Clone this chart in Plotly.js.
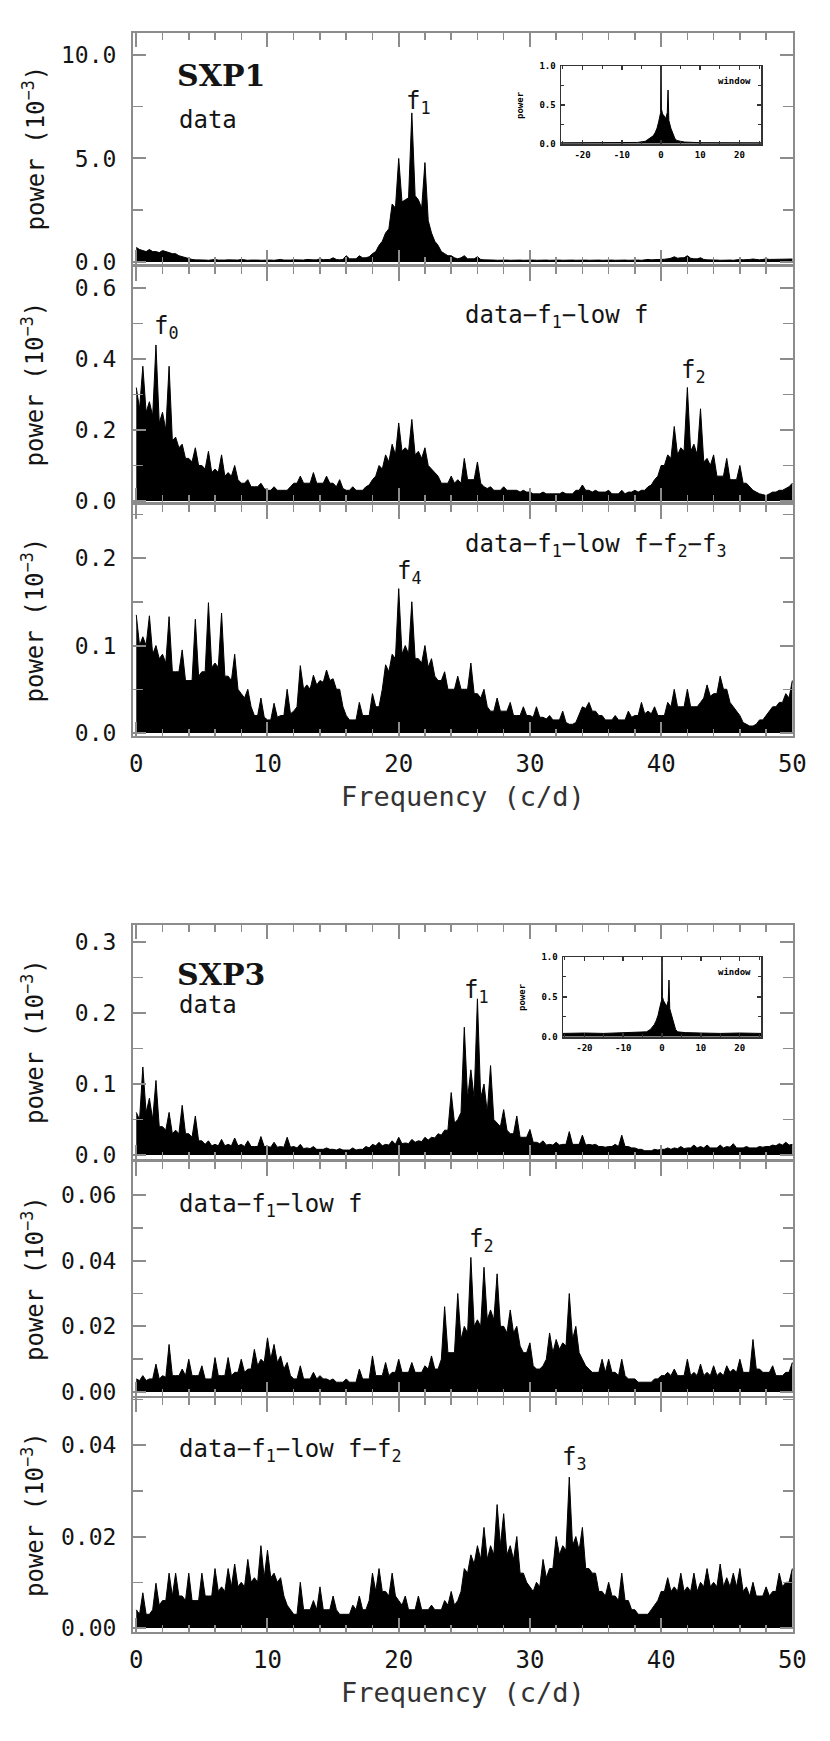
<!DOCTYPE html>
<html><head><meta charset="utf-8">
<script src="https://cdn.plot.ly/plotly-3.0.1.min.js"></script>
<style>html,body{margin:0;padding:0;background:#fff}</style>
</head><body><div id="chart" style="width:830px;height:1741px"></div>
<script>
// frequency grid (c/d): 0 .. 50 in steps of 0.25 (one row below = 5 c/d)
const FREQ_STEP = 0.25;

// SXP1 periodograms (power, 10^-3)
const sxp1Data = [
 0.7,0.6,0.55,0.5,0.6,0.5,0.5,0.45,0.55,0.48,0.45,0.4,0.4,0.3,0.25,0.2,0.15,0.12,0.1,0.1,
 0.12,0.09,0.08,0.09,0.12,0.09,0.08,0.09,0.1,0.09,0.08,0.09,0.12,0.09,0.08,0.09,0.1,0.09,0.08,0.09,
 0.1,0.09,0.08,0.09,0.12,0.09,0.08,0.09,0.1,0.09,0.08,0.09,0.12,0.1,0.1,0.1,0.15,0.11,0.1,0.12,
 0.2,0.12,0.1,0.12,0.3,0.15,0.15,0.15,0.3,0.2,0.2,0.25,0.4,0.5,0.8,1.0,1.4,1.6,2.8,2.6,
 5.0,2.9,3.0,3.1,7.2,3.2,3.0,2.6,4.8,2.0,1.4,1.0,0.8,0.5,0.4,0.3,0.3,0.2,0.15,0.2,
 0.3,0.15,0.15,0.15,0.25,0.12,0.1,0.1,0.12,0.09,0.08,0.09,0.1,0.09,0.08,0.09,0.1,0.09,0.08,0.09,
 0.1,0.09,0.08,0.09,0.1,0.09,0.08,0.09,0.1,0.09,0.08,0.09,0.1,0.09,0.08,0.09,0.1,0.09,0.08,0.09,
 0.1,0.09,0.08,0.09,0.1,0.09,0.08,0.09,0.1,0.09,0.08,0.09,0.1,0.09,0.08,0.1,0.12,0.1,0.1,0.11,
 0.12,0.13,0.15,0.18,0.25,0.18,0.2,0.2,0.3,0.18,0.15,0.15,0.2,0.12,0.1,0.1,0.12,0.09,0.08,0.09,
 0.1,0.09,0.08,0.1,0.12,0.1,0.1,0.12,0.14,0.11,0.1,0.12,0.15,0.12,0.12,0.13,0.15,0.12,0.12,0.13,
 0.14];
const sxp1Res1 = [
 0.32,0.26,0.38,0.25,0.28,0.24,0.44,0.22,0.25,0.2,0.38,0.17,0.18,0.15,0.16,0.12,0.12,0.11,0.15,0.1,
 0.1,0.09,0.14,0.08,0.09,0.08,0.13,0.07,0.08,0.07,0.1,0.06,0.05,0.05,0.06,0.04,0.04,0.04,0.05,0.035,
 0.03,0.03,0.04,0.03,0.03,0.03,0.03,0.04,0.05,0.05,0.07,0.05,0.05,0.05,0.08,0.05,0.05,0.05,0.07,0.05,
 0.05,0.04,0.06,0.035,0.03,0.03,0.04,0.03,0.03,0.03,0.04,0.045,0.06,0.07,0.1,0.09,0.13,0.11,0.16,0.13,
 0.22,0.14,0.15,0.14,0.23,0.13,0.14,0.12,0.15,0.1,0.09,0.08,0.07,0.05,0.05,0.05,0.07,0.05,0.06,0.05,
 0.12,0.06,0.06,0.06,0.11,0.05,0.04,0.035,0.04,0.03,0.03,0.03,0.04,0.03,0.03,0.03,0.03,0.025,0.03,0.025,
 0.025,0.02,0.02,0.02,0.025,0.02,0.02,0.02,0.02,0.02,0.025,0.02,0.02,0.02,0.03,0.03,0.045,0.03,0.03,0.025,
 0.03,0.025,0.025,0.025,0.03,0.02,0.02,0.02,0.03,0.02,0.025,0.025,0.03,0.025,0.03,0.03,0.04,0.045,0.06,0.07,
 0.1,0.1,0.13,0.12,0.21,0.13,0.15,0.14,0.32,0.14,0.16,0.13,0.26,0.11,0.12,0.1,0.13,0.07,0.07,0.07,
 0.12,0.06,0.06,0.06,0.1,0.05,0.05,0.04,0.03,0.025,0.02,0.018,0.015,0.02,0.025,0.025,0.03,0.03,0.035,0.04,
 0.05];
const sxp1Res2 = [
 0.135,0.1,0.11,0.1,0.134,0.09,0.1,0.085,0.09,0.08,0.133,0.07,0.07,0.07,0.095,0.06,0.06,0.06,0.13,0.065,
 0.07,0.07,0.149,0.075,0.08,0.075,0.137,0.065,0.065,0.06,0.09,0.05,0.045,0.04,0.05,0.03,0.02,0.02,0.04,0.018,
 0.015,0.015,0.034,0.018,0.02,0.02,0.05,0.022,0.025,0.03,0.077,0.05,0.055,0.05,0.066,0.055,0.06,0.058,0.072,0.06,
 0.062,0.05,0.05,0.03,0.02,0.015,0.015,0.015,0.035,0.02,0.02,0.02,0.045,0.03,0.03,0.05,0.078,0.07,0.09,0.085,
 0.165,0.09,0.1,0.09,0.15,0.085,0.085,0.08,0.1,0.075,0.085,0.065,0.06,0.06,0.07,0.05,0.05,0.05,0.065,0.05,
 0.05,0.05,0.08,0.045,0.045,0.04,0.05,0.03,0.025,0.025,0.04,0.025,0.025,0.025,0.035,0.02,0.02,0.02,0.03,0.02,
 0.02,0.018,0.03,0.018,0.018,0.016,0.02,0.015,0.015,0.015,0.025,0.012,0.01,0.01,0.012,0.02,0.03,0.028,0.035,0.025,
 0.025,0.02,0.02,0.015,0.015,0.015,0.02,0.015,0.015,0.015,0.025,0.018,0.02,0.02,0.035,0.022,0.025,0.022,0.03,0.02,
 0.02,0.02,0.035,0.03,0.05,0.03,0.03,0.03,0.05,0.03,0.03,0.03,0.035,0.04,0.055,0.042,0.045,0.045,0.065,0.05,
 0.05,0.035,0.03,0.025,0.02,0.012,0.01,0.008,0.008,0.01,0.015,0.015,0.02,0.025,0.03,0.03,0.035,0.035,0.045,0.04,
 0.06];

// SXP3 periodograms (power, 10^-3)
const sxp3Data = [
 0.06,0.05,0.124,0.06,0.08,0.05,0.105,0.04,0.04,0.035,0.06,0.03,0.035,0.03,0.07,0.03,0.03,0.025,0.055,0.02,
 0.02,0.015,0.02,0.013,0.015,0.013,0.022,0.013,0.015,0.013,0.024,0.013,0.015,0.012,0.02,0.012,0.012,0.012,0.026,0.012,
 0.012,0.011,0.018,0.011,0.012,0.011,0.025,0.011,0.012,0.01,0.015,0.009,0.01,0.009,0.012,0.008,0.008,0.008,0.01,0.008,
 0.008,0.007,0.009,0.007,0.007,0.007,0.01,0.007,0.008,0.008,0.012,0.01,0.015,0.013,0.018,0.013,0.015,0.014,0.02,0.015,
 0.025,0.016,0.017,0.016,0.022,0.018,0.02,0.019,0.025,0.021,0.025,0.024,0.03,0.028,0.035,0.035,0.088,0.045,0.05,0.06,
 0.18,0.08,0.12,0.08,0.22,0.08,0.1,0.06,0.126,0.05,0.045,0.04,0.064,0.035,0.03,0.03,0.055,0.025,0.025,0.025,
 0.036,0.018,0.018,0.016,0.02,0.014,0.015,0.014,0.018,0.014,0.015,0.015,0.033,0.015,0.015,0.015,0.028,0.014,0.015,0.014,
 0.015,0.012,0.012,0.011,0.012,0.012,0.015,0.012,0.028,0.012,0.012,0.01,0.01,0.008,0.008,0.006,0.006,0.006,0.008,0.007,
 0.008,0.008,0.01,0.008,0.01,0.009,0.012,0.009,0.01,0.01,0.014,0.01,0.012,0.01,0.014,0.01,0.01,0.01,0.014,0.01,
 0.012,0.011,0.016,0.01,0.01,0.01,0.012,0.01,0.01,0.01,0.012,0.011,0.012,0.012,0.014,0.013,0.016,0.014,0.018,0.014,
 0.015];
const sxp3Res1 = [
 0.004,0.0035,0.005,0.0035,0.004,0.004,0.0085,0.004,0.005,0.0045,0.0145,0.005,0.005,0.005,0.007,0.005,0.01,0.005,0.005,0.005,
 0.008,0.004,0.004,0.004,0.0105,0.005,0.005,0.005,0.0105,0.005,0.006,0.006,0.01,0.006,0.007,0.007,0.013,0.008,0.01,0.009,
 0.0165,0.01,0.0145,0.009,0.011,0.007,0.009,0.005,0.004,0.004,0.008,0.004,0.004,0.004,0.006,0.004,0.005,0.004,0.004,0.0035,
 0.004,0.003,0.003,0.003,0.004,0.003,0.003,0.003,0.007,0.004,0.004,0.004,0.011,0.005,0.005,0.005,0.009,0.005,0.006,0.006,
 0.01,0.006,0.006,0.006,0.009,0.006,0.006,0.006,0.008,0.007,0.011,0.007,0.007,0.01,0.026,0.012,0.012,0.012,0.03,0.016,
 0.02,0.018,0.041,0.02,0.022,0.02,0.038,0.022,0.025,0.022,0.036,0.02,0.02,0.018,0.025,0.018,0.02,0.014,0.012,0.012,
 0.015,0.008,0.007,0.007,0.008,0.01,0.018,0.012,0.016,0.013,0.015,0.014,0.03,0.016,0.02,0.012,0.01,0.008,0.007,0.006,
 0.006,0.006,0.01,0.006,0.01,0.006,0.006,0.005,0.01,0.005,0.004,0.004,0.004,0.003,0.003,0.003,0.003,0.003,0.004,0.004,
 0.005,0.005,0.006,0.005,0.007,0.005,0.005,0.005,0.01,0.005,0.006,0.005,0.0085,0.005,0.006,0.005,0.008,0.005,0.006,0.005,
 0.008,0.006,0.007,0.006,0.01,0.006,0.006,0.006,0.016,0.007,0.007,0.006,0.006,0.006,0.008,0.005,0.005,0.005,0.006,0.006,
 0.009];
const sxp3Res2 = [
 0.004,0.003,0.0077,0.003,0.003,0.004,0.0098,0.005,0.006,0.006,0.012,0.007,0.012,0.007,0.007,0.006,0.012,0.006,0.006,0.006,
 0.012,0.007,0.007,0.007,0.013,0.008,0.009,0.008,0.013,0.009,0.014,0.009,0.01,0.009,0.015,0.01,0.011,0.01,0.018,0.011,
 0.017,0.011,0.012,0.01,0.011,0.007,0.005,0.004,0.003,0.003,0.01,0.004,0.004,0.004,0.006,0.004,0.009,0.004,0.004,0.004,
 0.007,0.004,0.003,0.003,0.003,0.003,0.005,0.004,0.007,0.004,0.004,0.006,0.012,0.008,0.013,0.008,0.008,0.007,0.012,0.007,
 0.006,0.005,0.007,0.004,0.004,0.004,0.007,0.004,0.004,0.004,0.005,0.004,0.004,0.004,0.006,0.005,0.008,0.005,0.006,0.008,
 0.013,0.012,0.016,0.014,0.018,0.015,0.022,0.015,0.018,0.016,0.027,0.018,0.025,0.016,0.018,0.015,0.02,0.012,0.012,0.01,
 0.009,0.008,0.01,0.009,0.015,0.011,0.013,0.013,0.02,0.016,0.018,0.017,0.033,0.018,0.02,0.017,0.022,0.013,0.013,0.012,
 0.012,0.008,0.008,0.007,0.01,0.007,0.007,0.006,0.012,0.006,0.006,0.004,0.004,0.003,0.003,0.003,0.003,0.004,0.005,0.006,
 0.008,0.008,0.011,0.008,0.009,0.008,0.012,0.008,0.009,0.008,0.012,0.008,0.01,0.009,0.013,0.009,0.01,0.009,0.014,0.009,
 0.011,0.009,0.012,0.009,0.013,0.008,0.009,0.007,0.01,0.007,0.007,0.007,0.009,0.007,0.008,0.008,0.012,0.009,0.01,0.01,
 0.013];

// spectral windows (insets)
const winFreq = [-25.5,-20,-15,-10,-6,-4,-3,-2,-1.5,-1,-0.6,-0.3,-0.1,0,0.1,0.4,0.8,1.2,1.6,1.8,2.0,2.5,3,3.5,4,6,10,15,20,25.5];
const winPow1 = [0.01,0.012,0.01,0.012,0.015,0.03,0.06,0.1,0.14,0.2,0.28,0.35,0.4,1.0,0.45,0.38,0.36,0.32,0.4,0.69,0.3,0.2,0.12,0.07,0.04,0.02,0.012,0.01,0.012,0.01];
const winPow2 = [0.04,0.045,0.04,0.045,0.05,0.06,0.09,0.15,0.2,0.27,0.36,0.43,0.46,1.0,0.5,0.45,0.42,0.38,0.45,0.71,0.35,0.25,0.15,0.09,0.06,0.05,0.045,0.04,0.045,0.04];

// tick labels
const yTicks = [
 {vals:[0,5,10], text:['0.0','5.0','10.0'], minor:2.5},
 {vals:[0,0.2,0.4,0.6], text:['0.0','0.2','0.4','0.6'], minor:0.1},
 {vals:[0,0.1,0.2], text:['0.0','0.1','0.2'], minor:0.05},
 {vals:[0,0.1,0.2,0.3], text:['0.0','0.1','0.2','0.3'], minor:0.05},
 {vals:[0,0.02,0.04,0.06], text:['0.00','0.02','0.04','0.06'], minor:0.01},
 {vals:[0,0.02,0.04], text:['0.00','0.02','0.04'], minor:0.01}
];
const xTickVals = [0,10,20,30,40,50];
const xTickText = ['0','10','20','30','40','50'];
const winXVals = [-20,-10,0,10,20], winXText = ['-20','-10','0','10','20'];
const winYVals = [0,0.5,1], winYText = ['0.0','0.5','1.0'];

// ---------------- layout geometry (pixels) ----------------
const W = 830, H = 1741;
const PX = [133, 793];
const panels = [ // top, bottom (px), y range
 {t:33,  b:264,  r:[-0.1, 11.06]},
 {t:267, b:502,  r:[-0.003, 0.66]},
 {t:505, b:736,  r:[-0.0034, 0.2606]},
 {t:925, b:1159, r:[-0.0056, 0.324]},
 {t:1162,b:1396, r:[-0.0012, 0.07005]},
 {t:1398,b:1632, r:[-0.00087, 0.0503]}
];
const series = [sxp1Data, sxp1Res1, sxp1Res2, sxp3Data, sxp3Res1, sxp3Res2];
const insets = [{l:561,r:761,t:66,b:144,y:winPow1},{l:563,r:761,t:957,b:1037,y:winPow2}];

const fx = p => p / W, fy = p => 1 - p / H;
const FRAME = '#8c8c8c';
const MONO = 'DejaVu Sans Mono, monospace';
const TXT = '#141414';

const data = [], layout = {
 width: W, height: H, margin:{l:0,r:0,t:0,b:0},
 paper_bgcolor:'#fff', plot_bgcolor:'rgba(0,0,0,0)', showlegend:false,
 annotations: []
};

panels.forEach((p, i) => {
 const n = i + 1, xs = n === 1 ? '' : n, bottom = (i === 2 || i === 5);
 const ys = series[i];
 const freq = ys.map((_, k) => k * FREQ_STEP);
 data.push({x: freq, y: ys, type:'scatter', mode:'lines', fill:'tozeroy',
   line:{color:'#000', width:1}, fillcolor:'#000', xaxis:'x'+xs, yaxis:'y'+xs, hoverinfo:'skip'});
 layout['xaxis'+xs] = {
   domain:[fx(PX[0]), fx(PX[1])], anchor:'y'+xs, range:[-0.25, 50.05],
   showline:true, mirror:'allticks', linecolor:FRAME, linewidth:2,
   ticks:'inside', ticklen:14, tickwidth:2, tickcolor:FRAME,
   tickvals:xTickVals, ticktext:xTickText, showticklabels:bottom,
   ticklabelstandoff:5,
   tickfont:{family:MONO, size:24, color:TXT},
   minor:{dtick:2, tick0:0, ticks:'inside', ticklen:7, tickwidth:1.5, tickcolor:FRAME, showgrid:false},
   showgrid:false, zeroline:false, fixedrange:true
 };
 const yt = yTicks[i];
 layout['yaxis'+xs] = {
   domain:[fy(p.b), fy(p.t)], anchor:'x'+xs, range:p.r,
   showline:true, mirror:'allticks', linecolor:FRAME, linewidth:2,
   ticks:'inside', ticklen:13, tickwidth:2, tickcolor:FRAME,
   tickvals:yt.vals, ticktext:yt.text, ticklabelstandoff:10,
   tickfont:{family:MONO, size:23, color:TXT},
   minor:{dtick:yt.minor, tick0:0, ticks:'inside', ticklen:10, tickwidth:1.5, tickcolor:FRAME, showgrid:false},
   showgrid:false, zeroline:false, fixedrange:true
 };
 // y title
 layout.annotations.push({text:'power (10<sup>−3</sup>)', xref:'paper', yref:'paper',
   x:fx(33), y:fy((p.t+p.b)/2), textangle:-90, showarrow:false, xanchor:'center', yanchor:'middle',
   font:{family:MONO, size:24, color:TXT}});
 if (bottom) {
   layout.annotations.push({text:'Frequency (c/d)', xref:'paper', yref:'paper',
     x:fx((PX[0]+PX[1])/2), y:fy(p.b+60), showarrow:false, xanchor:'center', yanchor:'middle',
     font:{family:MONO, size:27, color:'#333'}});
 }
});

insets.forEach((s, k) => {
 const n = 7 + k;
 data.push({x: winFreq, y: s.y, type:'scatter', mode:'lines', fill:'tozeroy',
   line:{color:'#000', width:1}, fillcolor:'#000', xaxis:'x'+n, yaxis:'y'+n, hoverinfo:'skip'});
 layout['xaxis'+n] = {
   domain:[fx(s.l), fx(s.r)], anchor:'y'+n, range:[-25.5, 25.5],
   showline:true, mirror:'allticks', linecolor:'#333', linewidth:1.5,
   ticks:'inside', ticklen:4, tickwidth:1.5, tickcolor:'#333',
   tickvals:winXVals, ticktext:winXText, ticklabelstandoff:2,
   tickfont:{family:MONO, size:9, color:'#000', weight:'bold'},
   minor:{dtick:5, tick0:0, ticks:'inside', ticklen:3, tickwidth:1, tickcolor:'#333', showgrid:false},
   showgrid:false, zeroline:false, fixedrange:true
 };
 layout['yaxis'+n] = {
   domain:[fy(s.b), fy(s.t)], anchor:'x'+n, range:[-0.005, 1.0],
   showline:true, mirror:'allticks', linecolor:'#333', linewidth:1.5,
   ticks:'inside', ticklen:4, tickwidth:1.5, tickcolor:'#333',
   tickvals:winYVals, ticktext:winYText, ticklabelstandoff:2,
   tickfont:{family:MONO, size:9, color:'#000', weight:'bold'},
   minor:{dtick:0.25, tick0:0, ticks:'inside', ticklen:3, tickwidth:1, tickcolor:'#333', showgrid:false},
   showgrid:false, zeroline:false, fixedrange:true
 };
 layout.annotations.push({text:'window', xref:'paper', yref:'paper', x:fx(s.r-8), y:fy(s.t+15),
   xanchor:'right', yanchor:'middle', showarrow:false, font:{family:MONO, size:9, color:'#000', weight:'bold'}});
 layout.annotations.push({text:'power', xref:'paper', yref:'paper', x:fx(s.l-41), y:fy((s.t+s.b)/2),
   textangle:-90, xanchor:'center', yanchor:'middle', showarrow:false, font:{family:MONO, size:9, color:'#000', weight:'bold'}});
});

// text labels inside panels (pixel positions)
const labels = [
 {t:'SXP1', x:175, y:76, a:'left', serif:true},
 {t:'data', x:177, y:120, a:'left'},
 {t:'f<sub>1</sub>', x:418, y:102, a:'center'},
 {t:'f<sub>0</sub>', x:166, y:328, a:'center'},
 {t:'data−f<sub>1</sub>−low f', x:463, y:316, a:'left'},
 {t:'f<sub>2</sub>', x:693, y:371, a:'center'},
 {t:'data−f<sub>1</sub>−low f−f<sub>2</sub>−f<sub>3</sub>', x:463, y:546, a:'left'},
 {t:'f<sub>4</sub>', x:409, y:572, a:'center'},
 {t:'SXP3', x:175, y:974, a:'left', serif:true},
 {t:'data', x:177, y:1005, a:'left'},
 {t:'f<sub>1</sub>', x:476, y:991, a:'center'},
 {t:'data−f<sub>1</sub>−low f', x:177, y:1205, a:'left'},
 {t:'f<sub>2</sub>', x:481, y:1240, a:'center'},
 {t:'data−f<sub>1</sub>−low f−f<sub>2</sub>', x:177, y:1450, a:'left'},
 {t:'f<sub>3</sub>', x:574, y:1458, a:'center'}
];
labels.forEach(L => layout.annotations.push({text:L.t, xref:'paper', yref:'paper', x:fx(L.x), y:fy(L.y),
  xanchor:L.a, yanchor:'middle', showarrow:false,
  font: L.serif ? {family:'DejaVu Serif, serif', size:30, color:TXT, weight:'bold'} : {family:MONO, size:24, color:TXT}}));

Plotly.newPlot('chart', data, layout, {staticPlot:true, displayModeBar:false});
</script></body></html>
